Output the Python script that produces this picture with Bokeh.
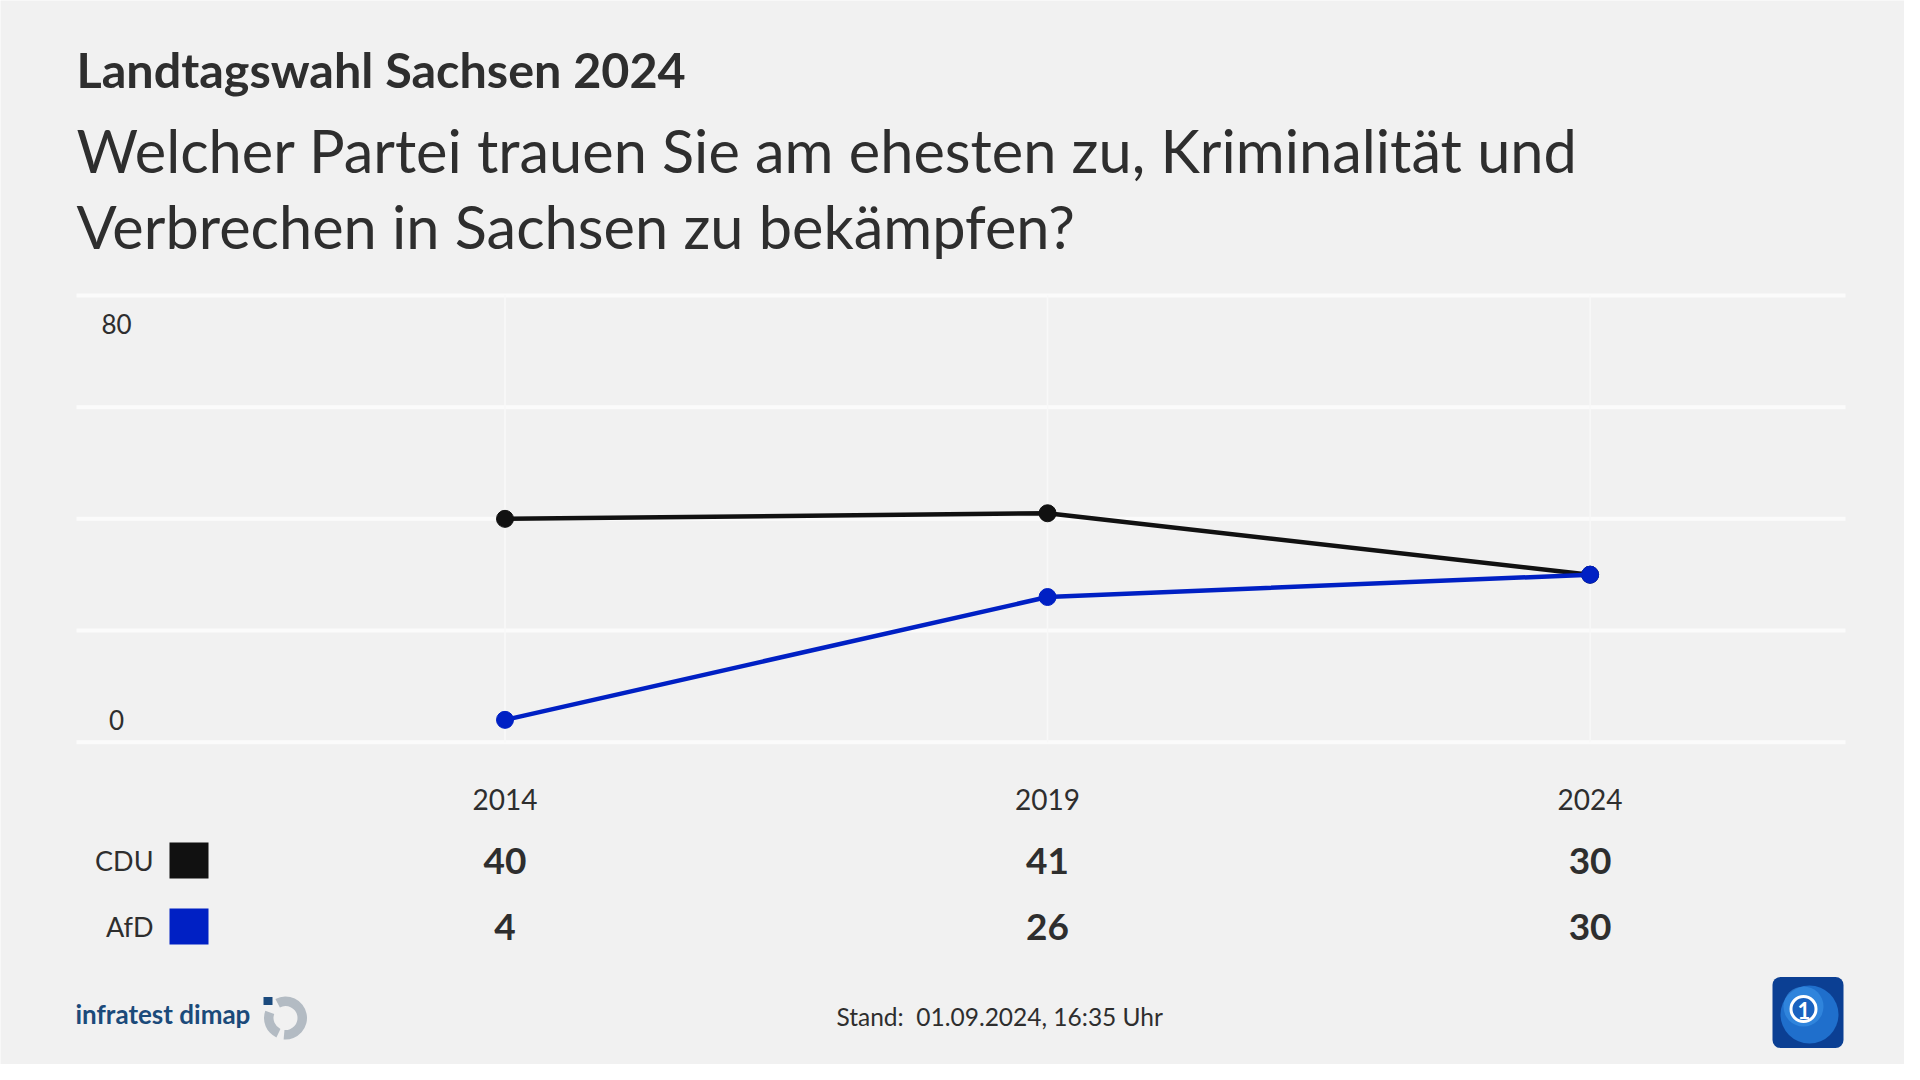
from bokeh.plotting import figure
from bokeh.embed import file_html
from bokeh.resources import INLINE
from bokeh.core.properties import value
from bokeh.models import Range1d

# ---------------- data ----------------
title = "Landtagswahl Sachsen 2024"
question_lines = [
    "Welcher Partei trauen Sie am ehesten zu, Kriminalität und",
    "Verbrechen in Sachsen zu bekämpfen?",
]
years = [2014, 2019, 2024]
year_labels = ["2014", "2019", "2024"]
parties = ["CDU", "AfD"]
party_colors = ["#111111", "#0020c4"]
cdu_values = [40, 41, 30]
afd_values = [4, 26, 30]
y_ticks = [0, 20, 40, 60, 80]
y_label_values = [80, 0]
y_label_texts = ["80", "0"]
stand_text = "Stand:  01.09.2024, 16:35 Uhr"
source_text = "infratest dimap"

# ---------------- layout (reference pixels) ----------------
W, H = 1904, 1064
OFF = 0
BG = "#f1f1f1"
TXT = "#2e2e2e"
FONT = "Lato"
X_FIRST, X_LAST = 504.5, 1589.6
Y_ZERO, Y_TOP = 741.7, 295.0
ppx = (X_LAST - X_FIRST) / (years[-1] - years[0])
ppy = (Y_ZERO - Y_TOP) / (y_ticks[-1] - y_ticks[0])


def dx(px):
    return years[0] + (px - X_FIRST) / ppx


def dy(py):
    return (Y_ZERO - py) / ppy


p = figure(
    width=W, height=H,
    x_range=Range1d(dx(OFF), dx(OFF + W)),
    y_range=Range1d(dy(OFF + H), dy(OFF)),
    x_axis_type=None, y_axis_type=None,
    output_backend="svg", toolbar_location=None, min_border=0,
)
p.grid.visible = False
p.outline_line_color = None
p.background_fill_color = BG
p.border_fill_color = BG

# grid
n = len(y_ticks)
p.segment(x0=[dx(76)] * n, x1=[dx(1845)] * n, y0=y_ticks, y1=y_ticks,
          line_color="#fbfbfb", line_width=4)
p.segment(x0=years, x1=years, y0=[y_ticks[0]] * len(years), y1=[y_ticks[-1]] * len(years),
          line_color="#f8f8f8", line_width=1.5)

# y labels (inside the plot)
p.text(x=[dx(116)], y=[y_label_values[0]], text=[y_label_texts[0]], y_offset=28,
       text_align="center", text_baseline="middle", text_font=value(FONT),
       text_font_size="26px", text_color=TXT)
p.text(x=[dx(116)], y=[y_label_values[1]], text=[y_label_texts[1]], y_offset=-22,
       text_align="center", text_baseline="middle", text_font=value(FONT),
       text_font_size="26px", text_color=TXT)

# lines
for vals, col in zip([cdu_values, afd_values], party_colors):
    p.line(years, vals, line_color=col, line_width=4.5)
    p.scatter(years, vals, size=17, fill_color=col, line_color=col)

# title + question
p.text(x=[dx(76)], y=[dy(68.6)], text=[title], text_baseline="alphabetic",
       text_font=value(FONT), text_font_style="bold", text_font_size="48.5px", text_color=TXT)
p.text(x=[dx(76)] * 2, y=[dy(149.4), dy(225)], text=question_lines, text_baseline="alphabetic",
       text_font=value(FONT), text_font_size="59.5px", text_color=TXT)

# year labels
p.text(x=years, y=[dy(799)] * len(years), text=year_labels, text_align="center",
       text_baseline="middle", text_font=value(FONT), text_font_size="28px", text_color=TXT)

# table rows
row_y = [860, 926]
for yy, name, col, vals in zip(row_y, parties, party_colors, [cdu_values, afd_values]):
    p.text(x=[dx(153)], y=[dy(yy)], text=[name], text_align="right", text_baseline="middle",
           text_font=value(FONT), text_font_size="27px", text_color=TXT)
    p.rect(x=[dx(188.5)], y=[dy(yy)], width=39 / ppx, height=36 / ppy,
           fill_color=col, line_color=None)
    p.text(x=years, y=[dy(yy)] * len(years), text=[str(v) for v in vals], text_align="center",
           text_baseline="middle", text_font=value(FONT), text_font_style="bold",
           text_font_size="37px", text_color=TXT)

# footer: source logo
p.text(x=[dx(75)], y=[dy(1013.5)], text=[source_text], text_baseline="alphabetic",
       text_font=value(FONT), text_font_style="bold", text_font_size="26px", text_color="#1b4a7a")
p.annular_wedge(x=[dx(285)] * 2, y=[dy(1017.5)] * 2, inner_radius=12, outer_radius=21.5,
                inner_radius_units="screen", outer_radius_units="screen",
                start_angle=[-95, 160], end_angle=[118, 245],
                start_angle_units="deg", end_angle_units="deg",
                fill_color="#b3bbc3", line_color=None)
p.rect(x=[dx(267.5)], y=[dy(1000.5)], width=9 / ppx, height=8 / ppy,
       fill_color="#1b4a7d", line_color=None)

# footer: stand (keep the double space visible)
p.text(x=[dx(836)], y=[dy(1016)], text=[stand_text.replace("  ", " \u00a0")], text_baseline="middle",
       text_font=value(FONT), text_font_size="24.5px", text_color=TXT)

# footer: broadcaster logo
p.rect(x=[dx(1807.5)], y=[dy(1012)], width=71 / ppx, height=71 / ppy,
       fill_color="#0b3f93", line_color=None, border_radius=8)
p.circle(x=[dx(1809)], y=[dy(1014)], radius=29, radius_units="screen",
         fill_color="#1f6fcc", line_color=None)
p.circle(x=[dx(1803)], y=[dy(1006)], radius=20, radius_units="screen",
         fill_color="#3a92e6", fill_alpha=0.6, line_color=None)
p.circle(x=[dx(1803)], y=[dy(1008.5)], radius=12.5, radius_units="screen",
         fill_color="#1a62bf", line_color="white", line_width=3)
p.text(x=[dx(1803.5)], y=[dy(1009.5)], text=["1"], text_align="center", text_baseline="middle",
       text_font=value(FONT), text_font_style="bold", text_font_size="22px", text_color="white")

html = file_html(p, INLINE, title=title)
html = html.replace("<body>", '<body style="background:%s">' % BG, 1)
open("out.html", "w").write(html)
